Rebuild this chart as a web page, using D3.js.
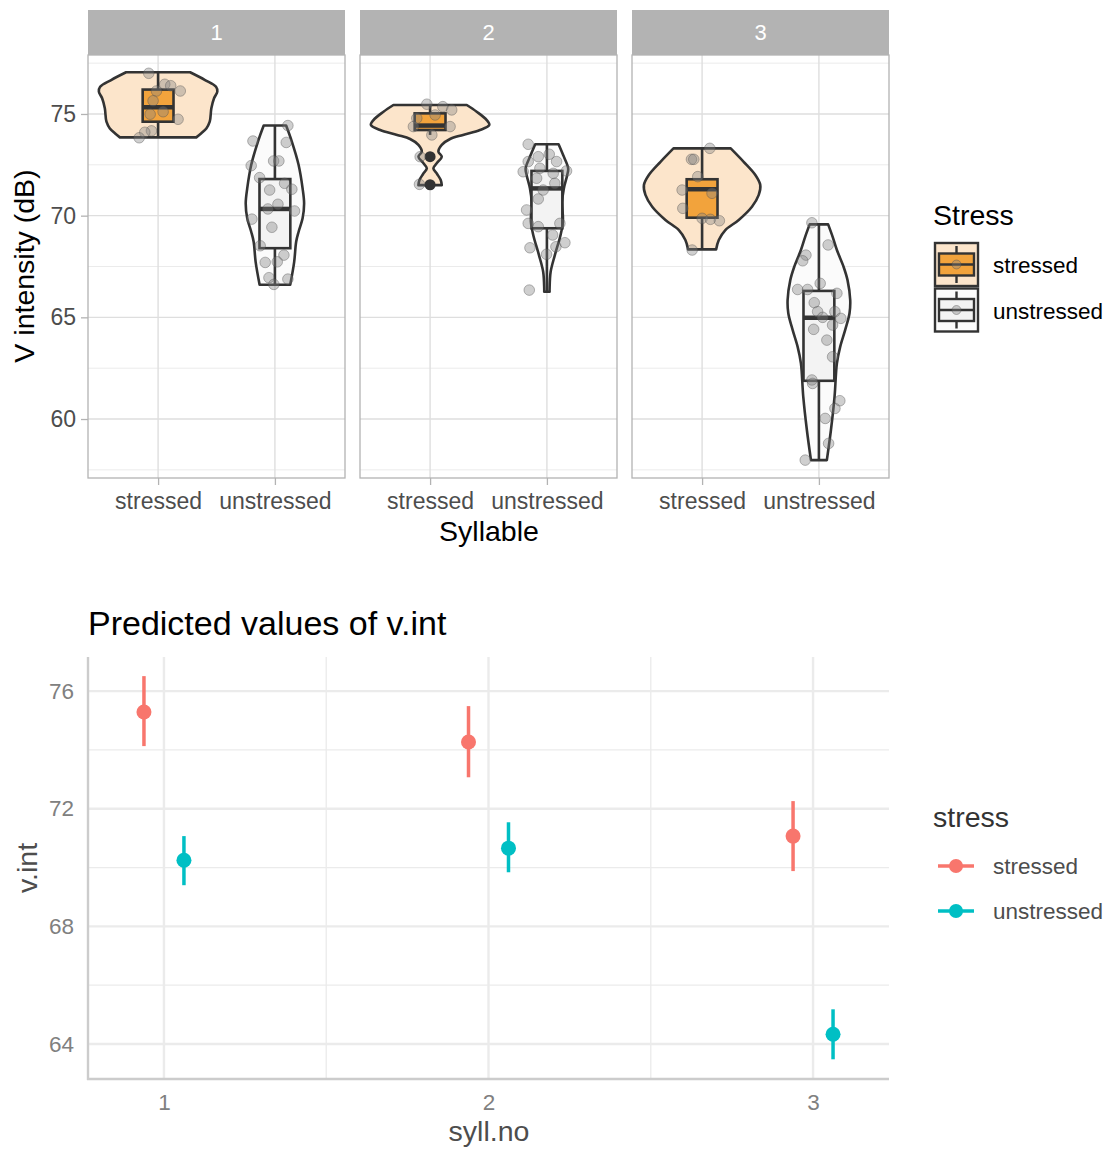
<!DOCTYPE html>
<html>
<head>
<meta charset="utf-8">
<script src="https://cdn.jsdelivr.net/npm/d3@7"></script>
<style>
  body { margin: 0; background: #fff; }
  svg { font-family: "Liberation Sans", Arial, sans-serif; }
</style>
</head>
<body>
<script>
// ---------- data ----------
const syllables = ["1", "2", "3"];
const stressLevels = ["stressed", "unstressed"];
const topTicks = [60, 65, 70, 75];

// raw observations (dB) and their horizontal jitter (in category units)
const s1StressedVals = [77.0, 76.46, 76.39, 76.13, 76.13, 75.65, 74.99, 75.11, 74.74, 74.17, 74.1, 73.83];
const s1StressedJit = [-0.08, 0.057, 0.108, 0.19, -0.014, -0.043, -0.068, 0.043, 0.171, -0.057, -0.114, -0.162];
const s1UnstressedVals = [74.43, 73.67, 73.6, 72.69, 72.69, 72.46, 71.87, 71.59, 71.26, 71.3, 70.56, 70.33, 70.23, 69.83, 69.43, 68.52, 68.06, 67.7, 67.73, 66.95, 66.88, 66.62];
const s1UnstressedJit = [0.111, -0.188, 0.097, -0.011, 0.034, -0.203, -0.131, 0.083, -0.045, 0.145, 0.026, -0.06, 0.168, -0.197, -0.026, -0.126, 0.077, -0.083, 0.02, -0.051, 0.111, -0.009];
const s2StressedVals = [75.48, 75.36, 75.2, 74.95, 74.79, 74.38, 74.38, 73.97, 72.9, 71.54];
const s2StressedJit = [-0.028, 0.109, 0.185, 0.043, -0.114, -0.143, 0.171, 0.015, -0.085, -0.091];
const s2UnstressedVals = [73.51, 72.9, 73.02, 72.66, 72.66, 72.16, 72.2, 72.33, 72.08, 71.84, 71.59, 71.26, 70.82, 70.28, 69.62, 69.62, 69.46, 69.05, 68.67, 68.42, 68.47, 68.1, 66.34];
const s2UnstressedJit = [-0.16, -0.074, 0.02, 0.083, -0.16, -0.203, 0.168, -0.06, 0.054, -0.088, 0.068, -0.032, -0.074, -0.174, -0.16, 0.111, -0.074, 0.049, 0.154, -0.145, 0.077, -0.003, -0.151];
const s3StressedVals = [73.31, 72.77, 72.77, 71.92, 71.26, 71.1, 70.36, 69.87, 69.82, 69.75, 68.31];
const s3StressedJit = [0.066, -0.091, -0.071, -0.037, -0.171, 0.085, -0.165, 0, 0.071, 0.148, -0.085];
const s3UnstressedVals = [69.65, 68.56, 68.06, 67.78, 66.67, 66.37, 66.37, 66.18, 65.72, 65.28, 65.28, 65.0, 64.95, 64.62, 64.41, 63.88, 63.06, 61.92, 61.75, 60.9, 60.52, 60.03, 58.8, 57.98];
const s3UnstressedJit = [-0.06, 0.079, -0.111, -0.139, 0.011, -0.182, -0.097, 0.154, -0.04, 0.137, -0.011, 0.032, 0.188, 0.117, -0.045, 0.068, 0.117, -0.06, -0.054, 0.179, 0.137, 0.054, 0.083, -0.117];

// violin outlines: [value, half width in category units]
const s1StressedViolin = [[77.05, 0.274], [76.67, 0.402], [76.34, 0.496], [76.1, 0.507], [75.77, 0.479], [75.28, 0.456], [74.62, 0.442], [74.29, 0.413], [74.05, 0.37], [73.85, 0.327]];
const s1UnstressedViolin = [[74.43, 0.096], [73.64, 0.145], [72.49, 0.203], [71.34, 0.237], [70.6, 0.25], [69.87, 0.237], [69.21, 0.203], [68.72, 0.182], [67.73, 0.165], [66.6, 0.131]];
const s2StressedViolin = [[75.44, 0.314], [75.11, 0.399], [74.7, 0.485], [74.46, 0.507], [74.21, 0.427], [73.97, 0.282], [73.77, 0.171], [73.48, 0.1], [73.15, 0.071], [72.9, 0.1], [72.6, 0.06], [72.33, 0.028], [72.05, 0.06], [71.75, 0.091], [71.5, 0.1]];
const s2UnstressedViolin = [[73.51, 0.1], [72.98, 0.139], [72.33, 0.182], [72.0, 0.174], [71.34, 0.145], [70.69, 0.131], [69.7, 0.137], [69.05, 0.117], [68.06, 0.068], [67.24, 0.032], [66.42, 0.023], [66.26, 0.023]];
const s3StressedViolin = [[73.31, 0.245], [72.65, 0.356], [72.0, 0.456], [71.51, 0.498], [71.02, 0.485], [70.44, 0.427], [69.79, 0.314], [69.29, 0.199], [68.8, 0.143], [68.34, 0.12]];
const s3UnstressedViolin = [[69.57, 0.079], [68.97, 0.117], [68.31, 0.154], [67.49, 0.211], [66.83, 0.245], [65.85, 0.268], [65.2, 0.262], [64.38, 0.225], [63.55, 0.182], [62.74, 0.154], [61.1, 0.134], [59.46, 0.103], [57.98, 0.068]];

// box stats: syllable, stress, lower whisker, q1, median, q3, upper whisker
const boxStats = [
  ["1", "stressed", 73.85, 74.62, 75.33, 76.2, 77.05],
  ["1", "unstressed", 66.6, 68.4, 70.33, 71.8, 74.43],
  ["2", "stressed", 73.97, 74.21, 74.43, 75.03, 75.44],
  ["2", "unstressed", 66.26, 69.38, 71.34, 72.2, 73.51],
  ["3", "stressed", 68.34, 69.9, 71.3, 71.79, 73.31],
  ["3", "unstressed", 57.98, 61.88, 64.98, 66.3, 69.57]
];
const boxOutliers = [["2", "stressed", 72.9], ["2", "stressed", 71.52]];

// predicted values of v.int
const predSyll = [1, 1, 2, 2, 3, 3];
const predStress = ["stressed", "unstressed", "stressed", "unstressed", "stressed", "unstressed"];
const predFit = [75.29, 70.25, 74.27, 70.66, 71.07, 64.33];
const predLow = [74.13, 69.40, 73.07, 69.84, 69.88, 63.48];
const predHigh = [76.51, 71.07, 75.49, 71.54, 72.26, 65.18];
const bottomTicks = [64, 68, 72, 76];

// ---------- setup ----------
const W = 1113, H = 1149;
const svg = d3.select("body").append("svg").attr("width", W).attr("height", H);

const groups = {
  "1-stressed": { vals: s1StressedVals, jit: s1StressedJit, violin: s1StressedViolin },
  "1-unstressed": { vals: s1UnstressedVals, jit: s1UnstressedJit, violin: s1UnstressedViolin },
  "2-stressed": { vals: s2StressedVals, jit: s2StressedJit, violin: s2StressedViolin },
  "2-unstressed": { vals: s2UnstressedVals, jit: s2UnstressedJit, violin: s2UnstressedViolin },
  "3-stressed": { vals: s3StressedVals, jit: s3StressedJit, violin: s3StressedViolin },
  "3-unstressed": { vals: s3UnstressedVals, jit: s3UnstressedJit, violin: s3UnstressedViolin }
};

const violinFill = { stressed: "#FCE5CB", unstressed: "#FBFBFB" };
const boxFill = { stressed: "#F2A33C", unstressed: "#F3F3F3" };
const outline = "#333333";
const ptFill = "rgba(130,130,130,0.38)", ptStroke = "rgba(80,80,80,0.4)";

// ---------- top: faceted violins ----------
const panelTop = 55, panelBottom = 478;
const panelX = d3.scaleBand().domain(syllables).range([88, 889]).paddingInner(15 / 272);
const yTop = d3.scaleLinear().domain([57.1, 77.9]).range([panelBottom, panelTop]);

syllables.forEach(s => {
  const x0 = panelX(s), pw = panelX.bandwidth();
  const xc = d3.scaleLinear().domain([0.4, 2.6]).range([x0, x0 + pw]);
  const unit = xc(2) - xc(1);
  const g = svg.append("g");

  // strip
  g.append("rect").attr("x", x0).attr("y", 10).attr("width", pw).attr("height", 45).attr("fill", "#B3B3B3");
  g.append("text").attr("x", x0 + pw / 2).attr("y", 40).attr("text-anchor", "middle")
    .attr("fill", "#fff").attr("font-size", 22).text(s);

  // grid
  const minor = d3.range(57.5, 78, 5);
  g.selectAll(".minor").data(minor).join("line")
    .attr("x1", x0).attr("x2", x0 + pw).attr("y1", d => yTop(d)).attr("y2", d => yTop(d))
    .attr("stroke", "#EBEBEB").attr("stroke-width", 1);
  g.selectAll(".major").data(topTicks).join("line")
    .attr("x1", x0).attr("x2", x0 + pw).attr("y1", d => yTop(d)).attr("y2", d => yTop(d))
    .attr("stroke", "#DEDEDE").attr("stroke-width", 1.4);
  g.selectAll(".vmajor").data([1, 2]).join("line")
    .attr("x1", d => xc(d)).attr("x2", d => xc(d)).attr("y1", panelTop).attr("y2", panelBottom)
    .attr("stroke", "#DEDEDE").attr("stroke-width", 1.4);

  stressLevels.forEach((st, i) => {
    const cx = xc(i + 1);
    const grp = groups[s + "-" + st];
    const area = d3.area()
      .y(d => yTop(d[0]))
      .x0(d => cx - d[1] * unit)
      .x1(d => cx + d[1] * unit)
      .curve(d3.curveCatmullRom.alpha(0.5));
    g.append("path").attr("d", area(grp.violin))
      .attr("fill", violinFill[st]).attr("stroke", outline).attr("stroke-width", 2.6)
      .attr("stroke-linejoin", "round");

    const b = boxStats.find(r => r[0] === s && r[1] === st);
    const bw = 0.132 * unit;
    g.append("line").attr("x1", cx).attr("x2", cx).attr("y1", yTop(b[2])).attr("y2", yTop(b[6]))
      .attr("stroke", outline).attr("stroke-width", 2.6);
    g.append("rect").attr("x", cx - bw).attr("width", 2 * bw)
      .attr("y", yTop(b[5])).attr("height", yTop(b[3]) - yTop(b[5]))
      .attr("fill", boxFill[st]).attr("stroke", outline).attr("stroke-width", 2.6);
    g.append("line").attr("x1", cx - bw).attr("x2", cx + bw).attr("y1", yTop(b[4])).attr("y2", yTop(b[4]))
      .attr("stroke", outline).attr("stroke-width", 4.5);

    boxOutliers.filter(o => o[0] === s && o[1] === st).forEach(o => {
      g.append("circle").attr("cx", cx).attr("cy", yTop(o[2])).attr("r", 5.5).attr("fill", outline);
    });

    g.selectAll(null).data(grp.vals).join("circle")
      .attr("cx", (d, k) => cx + grp.jit[k] * unit)
      .attr("cy", d => yTop(d))
      .attr("r", 5.3)
      .attr("fill", ptFill)
      .attr("stroke", ptStroke)
      .attr("stroke-width", 1);
  });

  // panel border
  g.append("rect").attr("x", x0).attr("y", panelTop).attr("width", pw).attr("height", panelBottom - panelTop)
    .attr("fill", "none").attr("stroke", "#B3B3B3").attr("stroke-width", 1.3);

  // x axis
  const xa = g.append("g").attr("transform", `translate(0,${panelBottom})`)
    .call(d3.axisBottom(xc).tickValues([1, 2]).tickFormat(d => stressLevels[d - 1]).tickSize(7).tickPadding(7));
  xa.select(".domain").remove();
  xa.selectAll("line").attr("stroke", "#B3B3B3").attr("stroke-width", 1.3);
  xa.selectAll("text").attr("font-size", 23).attr("fill", "#4D4D4D").attr("font-family", null).attr("dy", "0.75em");
});

// top y axis
const ya = svg.append("g").attr("transform", `translate(88,0)`)
  .call(d3.axisLeft(yTop).tickValues(topTicks).tickSize(7).tickPadding(5));
ya.select(".domain").remove();
ya.selectAll("line").attr("stroke", "#B3B3B3").attr("stroke-width", 1.3);
ya.selectAll("text").attr("font-size", 23).attr("fill", "#4D4D4D").attr("font-family", null);

svg.append("text").attr("transform", "translate(34,266) rotate(-90)").attr("text-anchor", "middle")
  .attr("font-size", 28.5).attr("fill", "#000").text("V intensity (dB)");
svg.append("text").attr("x", 489).attr("y", 541).attr("text-anchor", "middle")
  .attr("font-size", 28.5).attr("fill", "#000").text("Syllable");

// top legend
svg.append("text").attr("x", 933).attr("y", 225).attr("font-size", 28.5).attr("fill", "#000").text("Stress");
stressLevels.forEach((st, i) => {
  const ky = 243 + i * 45.5;
  const lg = svg.append("g");
  lg.append("rect").attr("x", 935).attr("y", ky).attr("width", 43).attr("height", 43)
    .attr("fill", violinFill[st]).attr("stroke", outline).attr("stroke-width", 2.4);
  lg.append("line").attr("x1", 956.5).attr("x2", 956.5).attr("y1", ky + 3).attr("y2", ky + 40)
    .attr("stroke", outline).attr("stroke-width", 2.4);
  lg.append("rect").attr("x", 939).attr("y", ky + 10.5).attr("width", 35).attr("height", 22)
    .attr("fill", boxFill[st]).attr("stroke", outline).attr("stroke-width", 2.4);
  lg.append("line").attr("x1", 939).attr("x2", 974).attr("y1", ky + 21.5).attr("y2", ky + 21.5)
    .attr("stroke", outline).attr("stroke-width", 2.4);
  lg.append("circle").attr("cx", 956.5).attr("cy", ky + 21.5).attr("r", 4.5)
    .attr("fill", ptFill).attr("stroke", ptStroke);
  lg.append("text").attr("x", 993).attr("y", ky + 30).attr("font-size", 22.5).attr("fill", "#000").text(st);
});

// ---------- bottom: predicted values ----------
const bx = d3.scaleLinear().domain([0.766, 3.234]).range([88, 889]);
const by = d3.scaleLinear().domain([62.81, 77.16]).range([1079, 657]);
const colour = d3.scaleOrdinal().domain(stressLevels).range(["#F8766D", "#00BFC4"]);
const dodge = { stressed: -0.0616, unstressed: 0.0616 };

const bg = svg.append("g");
bg.selectAll(".yminor").data([66, 70, 74]).join("line")
  .attr("x1", 88).attr("x2", 889).attr("y1", d => by(d)).attr("y2", d => by(d))
  .attr("stroke", "#EBEBEB").attr("stroke-width", 1.3);
bg.selectAll(".xminor").data([1.5, 2.5]).join("line")
  .attr("y1", 657).attr("y2", 1079).attr("x1", d => bx(d)).attr("x2", d => bx(d))
  .attr("stroke", "#EBEBEB").attr("stroke-width", 1.3);
bg.selectAll(".ymajor").data(bottomTicks).join("line")
  .attr("x1", 88).attr("x2", 889).attr("y1", d => by(d)).attr("y2", d => by(d))
  .attr("stroke", "#EBEBEB").attr("stroke-width", 2.4);
bg.selectAll(".xmajor").data([1, 2, 3]).join("line")
  .attr("y1", 657).attr("y2", 1079).attr("x1", d => bx(d)).attr("x2", d => bx(d))
  .attr("stroke", "#EBEBEB").attr("stroke-width", 2.4);

// axis lines
bg.append("line").attr("x1", 88).attr("x2", 88).attr("y1", 657).attr("y2", 1080)
  .attr("stroke", "#CCCCCC").attr("stroke-width", 2.4);
bg.append("line").attr("x1", 87).attr("x2", 889).attr("y1", 1079).attr("y2", 1079)
  .attr("stroke", "#CCCCCC").attr("stroke-width", 2.4);

const pred = predFit.map((v, i) => ({ s: predSyll[i], st: predStress[i], fit: v, lo: predLow[i], hi: predHigh[i] }));
bg.selectAll(".err").data(pred).join("line")
  .attr("x1", d => bx(d.s + dodge[d.st])).attr("x2", d => bx(d.s + dodge[d.st]))
  .attr("y1", d => by(d.lo)).attr("y2", d => by(d.hi))
  .attr("stroke", d => colour(d.st)).attr("stroke-width", 3.5);
bg.selectAll(".pt").data(pred).join("circle")
  .attr("cx", d => bx(d.s + dodge[d.st])).attr("cy", d => by(d.fit)).attr("r", 7.5)
  .attr("fill", d => colour(d.st));

// axes text
const bya = svg.append("g").attr("transform", "translate(88,0)")
  .call(d3.axisLeft(by).tickValues(bottomTicks).tickSize(0).tickPadding(14));
bya.select(".domain").remove();
bya.selectAll("text").attr("font-size", 22.5).attr("fill", "#808080").attr("font-family", null);
const bxa = svg.append("g").attr("transform", "translate(0,1079)")
  .call(d3.axisBottom(bx).tickValues([1, 2, 3]).tickFormat(d3.format("d")).tickSize(0).tickPadding(14));
bxa.select(".domain").remove();
bxa.selectAll("text").attr("font-size", 22.5).attr("fill", "#808080").attr("font-family", null).attr("dy", "0.75em");

svg.append("text").attr("x", 88).attr("y", 635).attr("font-size", 34).attr("fill", "#000")
  .text("Predicted values of v.int");
svg.append("text").attr("transform", "translate(37,868) rotate(-90)").attr("text-anchor", "middle")
  .attr("font-size", 28.5).attr("fill", "#4D4D4D").text("v.int");
svg.append("text").attr("x", 489).attr("y", 1141).attr("text-anchor", "middle")
  .attr("font-size", 28.5).attr("fill", "#4D4D4D").text("syll.no");

// bottom legend
svg.append("text").attr("x", 933).attr("y", 827).attr("font-size", 28.5).attr("fill", "#333").text("stress");
stressLevels.forEach((st, i) => {
  const ky = 866 + i * 45;
  svg.append("line").attr("x1", 938).attr("x2", 974).attr("y1", ky).attr("y2", ky)
    .attr("stroke", colour(st)).attr("stroke-width", 3.5);
  svg.append("circle").attr("cx", 956).attr("cy", ky).attr("r", 7).attr("fill", colour(st));
  svg.append("text").attr("x", 993).attr("y", ky + 8).attr("font-size", 22.5).attr("fill", "#4D4D4D").text(st);
});
</script>
</body>
</html>
